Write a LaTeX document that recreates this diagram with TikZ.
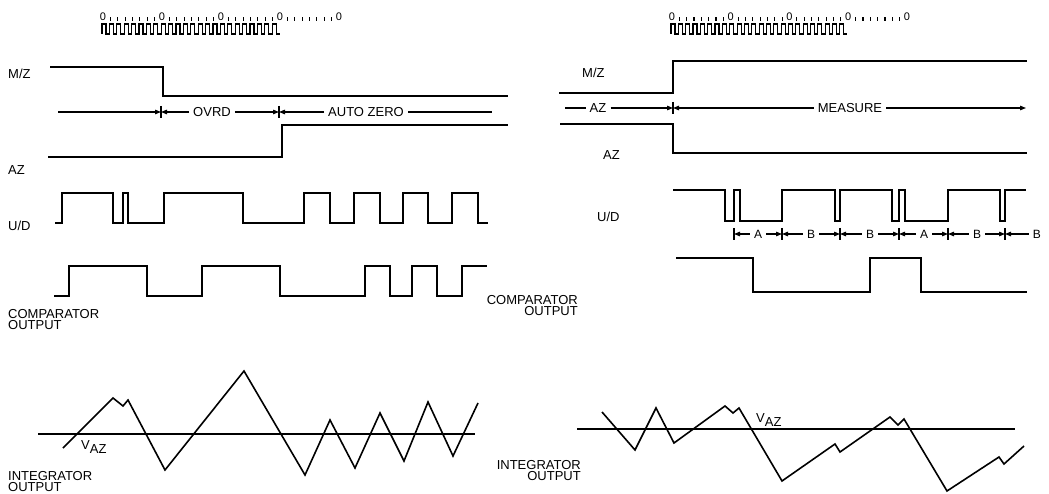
\documentclass[tikz,border=0pt]{standalone}
\usepackage{fontspec}
\setmainfont{Liberation Sans}
\usetikzlibrary{arrows.meta}
\begin{document}
\begin{tikzpicture}[x=1pt,y=-1pt,
  wave/.style={line width=1.8pt, line join=miter, line cap=butt},
  clk/.style={line width=1.1pt},
  clktick/.style={line width=1.2pt},
  lbl/.style={font=\fontsize{13}{11.5}\selectfont, inner sep=0pt},
  clklbl/.style={font=\fontsize{11}{11}\selectfont, inner sep=0pt},
  dimlbl/.style={font=\fontsize{13}{13}\selectfont, inner xsep=4pt, inner ysep=0pt},
  ablbl/.style={font=\fontsize{12}{12}\selectfont, inner xsep=4pt, inner ysep=0pt},
  dimline/.style={line width=1.2pt},
  arr/.style={line width=1.2pt, -{Triangle[length=6pt,width=4.5pt]}},
  marktick/.style={line width=1.2pt}]
\useasboundingbox (0,0) rectangle (1049,494);

% ---------------- clock labels and clocks ----------------
\foreach \i in {0,...,4}{
  \node[clklbl] (lc\i) at ({103+59*\i},17) {0};
  \node[clklbl] (rc\i) at ({672+58.75*\i},17) {0};
}
\foreach \i in {0,...,3}{
  \foreach \j in {1,...,7}{
    \draw[clktick] ({103+59*\i+7.375*\j},17.5) -- ++(0,3.5);
    \draw[clktick] ({672+58.75*\i+7.34*\j},17.5) -- ++(0,3.5);
  }
}
\draw[clk] (102,34) \foreach \k in {0,...,23}{ -- ++(0,-10) -- ++(4,0) -- ++(0,10) -- ++(3.4,0) };
\draw[clk] (671,34) \foreach \k in {0,...,23}{ -- ++(0,-10) -- ++(4,0) -- ++(0,10) -- ++(3.34,0) };

% ---------------- left panel ----------------
\node[lbl, anchor=west] (mzL) at (8,74) {M/Z};
\node[lbl, anchor=west] (azL) at (8,170) {AZ};
\node[lbl, anchor=west] (udL) at (8,226) {U/D};
\node[lbl, anchor=north west, align=left] (cmpL) at (8,309) {COMPARATOR\\OUTPUT};
\node[lbl, anchor=north west, align=left] (intL) at (8,471) {INTEGRATOR\\OUTPUT};

\draw[wave] (50,67) -| (163,96) -- (508,96);
\draw[wave] (48,157) -| (282,125) -- (508,125);
\draw[wave] (55,223) -| (62,193) -| (113,223) -| (123,193) -| (128,223) -| (164,193)
  -| (243,223) -| (304,193) -| (330,223) -| (354,193) -| (380,223) -| (403,193)
  -| (428,223) -| (452,193) -| (478,223) -- (488,223);
\draw[wave] (54,296) -| (69,266) -| (147,296) -| (202,266) -| (280,296) -| (365,266)
  -| (390,296) -| (412,266) -| (437,296) -| (462,266) -- (487,266);

% OVRD / AUTO ZERO
\coordinate (s1) at (58,112);
\coordinate (t1) at (161,112);
\coordinate (t2) at (279,112);
\coordinate (e1) at (492,112);
\node[dimlbl] (ovrd) at (212,112) {OVRD};
\node[dimlbl] (autoz) at (366,112) {AUTO ZERO};
\draw[arr] (s1) -- (t1);
\draw[arr] (ovrd.west) -- (t1);
\draw[arr] (ovrd.east) -- (t2);
\draw[arr] (autoz.west) -- (t2);
\draw[dimline] (autoz.east) -- (e1);
\draw[marktick] ([yshift=6pt]t1) -- ([yshift=-6pt]t1);
\draw[marktick] ([yshift=6pt]t2) -- ([yshift=-6pt]t2);

% integrator
\node[lbl, anchor=west] (vazL) at (81,447) {V\raisebox{-4pt}{AZ}};
\draw[wave, line width=1.6pt] (38,434) -- (475,434);
\draw[wave, line width=1.6pt] (63,448) -- (113,398) -- (123,406) -- (128,400) -- (165,470)
  -- (244,371) -- (305,475) -- (330,420) -- (355,468) -- (380,413) -- (404,461)
  -- (428,402) -- (453,456) -- (478,403);

% ---------------- right panel ----------------
\node[lbl, anchor=west] (mzR) at (582,73) {M/Z};
\node[lbl, anchor=west] (azR) at (603,155) {AZ};
\node[lbl, anchor=west] (udR) at (597,217) {U/D};
\node[lbl, anchor=north east, align=right] (cmpR) at (578,295) {COMPARATOR\\OUTPUT};
\node[lbl, anchor=north east, align=right] (intR) at (581,460) {INTEGRATOR\\OUTPUT};

\draw[wave] (559,93) -| (673,61) -- (1027,61);
\draw[wave] (560,124) -| (673,153) -- (1027,153);
\draw[wave] (673,190) -| (725,221) -| (734,190) -| (740,221) -| (782,190) -| (835,221)
  -| (840,190) -| (892,221) -| (899,190) -| (905,221) -| (948,190) -| (1000,221)
  -| (1005,190) -- (1026,190);
\draw[wave] (676,258) -| (753,292) -| (870,258) -| (921,292) -- (1027,292);

% AZ / MEASURE
\coordinate (s2) at (565,108);
\coordinate (t3) at (673,108);
\coordinate (e2) at (1026,108);
\node[dimlbl] (azm) at (598,108) {AZ};
\node[dimlbl] (meas) at (850,108) {MEASURE};
\draw[dimline] (s2) -- (azm.west);
\draw[arr] (azm.east) -- (t3);
\draw[arr] (meas.west) -- (t3);
\draw[arr] (meas.east) -- (e2);
\draw[marktick] ([yshift=6pt]t3) -- ([yshift=-6pt]t3);

% A / B intervals
\coordinate (m1) at (734,234);
\coordinate (m2) at (782,234);
\coordinate (m3) at (840,234);
\coordinate (m4) at (899,234);
\coordinate (m5) at (948,234);
\coordinate (m6) at (1005,234);
\node[ablbl] (ia1) at (758,234) {A};
\node[ablbl] (ib1) at (811,234) {B};
\node[ablbl] (ib2) at (870,234) {B};
\node[ablbl] (ia2) at (924,234) {A};
\node[ablbl] (ib3) at (977,234) {B};
\node[ablbl, anchor=east] (ib4) at (1045,234) {B};
\draw[arr] (ia1.west) -- (m1);
\draw[arr] (ia1.east) -- (m2);
\draw[arr] (ib1.west) -- (m2);
\draw[arr] (ib1.east) -- (m3);
\draw[arr] (ib2.west) -- (m3);
\draw[arr] (ib2.east) -- (m4);
\draw[arr] (ia2.west) -- (m4);
\draw[arr] (ia2.east) -- (m5);
\draw[arr] (ib3.west) -- (m5);
\draw[arr] (ib3.east) -- (m6);
\draw[arr] (ib4.west) -- (m6);
\foreach \m in {m1,m2,m3,m4,m5,m6}{
  \draw[marktick] ([yshift=6pt]\m) -- ([yshift=-6pt]\m);
}

% integrator
\node[lbl, anchor=west] (vazR) at (756,420) {V\raisebox{-4pt}{AZ}};
\draw[wave, line width=1.6pt] (577,429) -- (1015,429);
\draw[wave, line width=1.6pt] (602,412) -- (635,450) -- (656,408) -- (674,443) -- (725,406)
  -- (733,413) -- (739,408) -- (782,481) -- (835,444) -- (840,452) -- (890,417)
  -- (898,425) -- (904,419) -- (947,491) -- (999,457) -- (1004,464) -- (1024,446);
\end{tikzpicture}
\end{document}
